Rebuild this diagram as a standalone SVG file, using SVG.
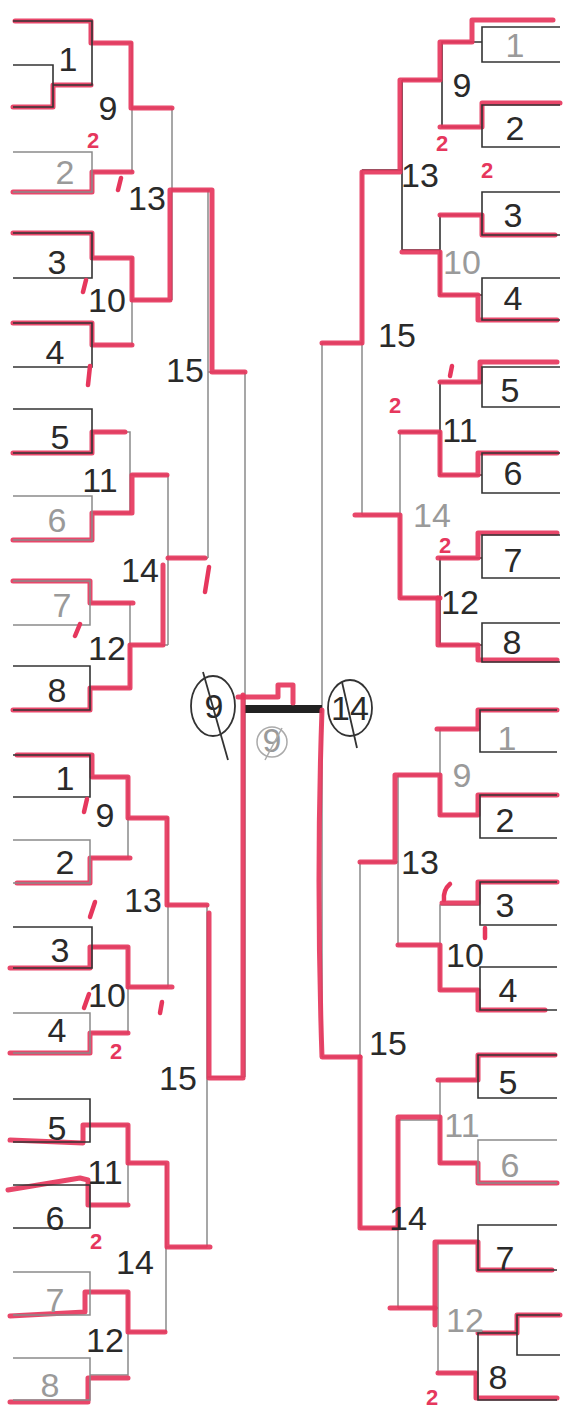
<svg xmlns="http://www.w3.org/2000/svg" width="565" height="1413" viewBox="0 0 565 1413">
<style>
.b{fill:none;stroke:#333;stroke-width:1.6}
.g{fill:none;stroke:#8a8a8a;stroke-width:1.5}
.r{fill:none;stroke:#e6375d;stroke-width:5;stroke-linecap:round;stroke-linejoin:round;opacity:.92}
.t{font-family:"Liberation Sans",sans-serif;font-size:34px;fill:#2a2a2a;text-anchor:middle}
.tg{fill:#9a9a9a}
.rt{font-family:"Liberation Sans",sans-serif;font-size:22px;font-weight:bold;fill:#e6375d;text-anchor:middle}
.k{fill:none;stroke:#e6375d;stroke-width:4.5;stroke-linecap:round}
</style>
<rect width="565" height="1413" fill="#fff"/>
<g id="connectors">
<path class="g" d="M92,43 H132 V172 H92 M132,108 H172 M92,258 H132 V345 H92 M132,300 H172 M172,108 V300 M172,190 H210 M92,432 H130 V513 H92 M130,475 H168 M90,603 H130 V688 H90 M130,645 H168 M168,475 V645 M168,558 H208 M208,190 V558 M208,372 H245"/>
<path class="g" d="M245,372 V1077 M322,343 V1057"/>
<path class="g" d="M90,777 H128 V858 H90 M128,818 H168 M92,947 H128 V1033 H90 M128,987 H168 M168,818 V987 M168,905 H207 M90,1125 H128 V1205 H90 M128,1163 H166 M90,1292 H128 V1375 H90 M128,1332 H166 M166,1163 V1332 M166,1247 H207 M207,905 V1247 M207,1077 H245"/>
<path class="b" d="M482,42 H442 V127 H482 M442,80 H402 M482,215 H440 V295 H482 M440,250 H402 M402,80 V250 M402,170 H362 M482,382 H440 V475 H482 M440,432 H400 M482,558 H440 V645 H482 M440,598 H400"/>
<path class="g" d="M400,432 V598 M400,515 H362 M362,170 V515 M362,343 H322"/>
<path class="g" d="M480,729 H440 V815 H480 M440,775 H398 M480,905 H440 V990 H480 M440,945 H398 M398,775 V945 M398,862 H360 M478,1080 H440 V1163 H478 M440,1120 H398 M478,1242 H438 V1373 H478 M438,1308 H398 M398,1120 V1308 M398,1228 H360 M360,862 V1228 M360,1057 H322"/>
<path d="M245,709 H322" stroke="#222" stroke-width="8" fill="none"/>
<path class="r" d="M15,21 H91 V43 H131 V108 H172"/>
<path class="r" d="M13,107 H53 V85 H91"/>
<path class="r" d="M13,192 H92 V172 H132"/>
<path class="r" d="M13,233 H92 V258 H132 V300 H170 V190 H212 V372 H245"/>
<path class="r" d="M13,323 H92 V345 H132"/>
<path class="r" d="M13,453 H92 V432 H125"/>
<path class="r" d="M13,540 H92 V513 H132 V475 H167"/>
<path class="r" d="M168,558 H205"/>
<path class="r" d="M13,581 H90 V603 H133"/>
<path class="r" d="M13,710 H90 V688 H130 V645 H163 V565"/>
<path class="r" d="M17,755 H92 V777 H128 V818 H167 V905 H207"/>
<path class="r" d="M17,883 H90 V858 H130"/>
<path class="r" d="M10,968 H90 V947 H128 V987 H172"/>
<path class="r" d="M10,1053 H90 V1033 H128"/>
<path class="r" d="M209,913 V1078 H243 V695"/>
<path class="r" d="M10,1140 L83,1143 V1125 H128 V1163 H167 V1247 H210"/>
<path class="r" d="M8,1190 L80,1178 L88,1180 V1205 H128"/>
<path class="r" d="M10,1316 L85,1312 V1292 H128 V1332 H165"/>
<path class="r" d="M10,1402 H88 V1378 H128"/>
<path class="r" d="M238,697 H278 V685 H293 V703"/>
<path class="r" d="M553,20 H472 V42 H440 V80 H400 V172 H362 V343 H322"/>
<path class="r" d="M560,103 H482 V127 H440"/>
<path class="r" d="M555,235 H482 V215 H440"/>
<path class="r" d="M557,320 H478 V295 H440 V252 H402"/>
<path class="r" d="M557,362 H480 V382 H440"/>
<path class="r" d="M557,453 H478 V475 H440 V432 H400"/>
<path class="r" d="M355,515 H400 V598 H440"/>
<path class="r" d="M557,533 H478 V558 H438"/>
<path class="r" d="M557,660 H478 V645 H438 V598"/>
<path class="r" d="M322,710 Q316,880 322,1057 H360"/>
<path class="r" d="M557,710 H478 V729 H437"/>
<path class="r" d="M557,795 H478 V815 H440 V775 H395 V862 H360"/>
<path class="r" d="M557,882 H478 V903 H442"/>
<path class="r" d="M545,1010 H478 V990 H440 V945 H398"/>
<path class="r" d="M555,1055 H478 V1080 H438"/>
<path class="r" d="M557,1183 H478 V1163 H440 V1117 H398 V1228 H360 V1057"/>
<path class="r" d="M552,1270 H478 V1242 H435 V1325"/>
<path class="r" d="M390,1308 H435"/>
<path class="r" d="M557,1398 H476 V1373 H438"/>
<path class="r" d="M560,1315 H517 V1333 H478"/>
</g>
<g id="lt-p1"><path class="b" d="M13,21 H92 V85 H53 M13,65 H53 V107 H13"/><text class="t" x="68" y="71" font-size="44">1</text></g>
<g id="lt-p2"><path class="g" d="M13,152 H92 V192 H13"/><text class="t tg" x="65" y="184">2</text></g>
<g id="lt-p3"><path class="b" d="M13,233 H92 V278 H13"/><text class="t" x="57" y="274">3</text></g>
<g id="lt-p4"><path class="b" d="M13,323 H92 V367 H13"/><text class="t" x="55" y="364">4</text></g>
<g id="lt-p5"><path class="b" d="M13,409 H92 V453 H13"/><text class="t" x="60" y="449">5</text></g>
<g id="lt-p6"><path class="g" d="M13,496 H92 V540 H13"/><text class="t tg" x="57" y="532">6</text></g>
<g id="lt-p7"><path class="g" d="M13,581 H90 V625 H13"/><text class="t tg" x="62" y="617">7</text></g>
<g id="lt-p8"><path class="b" d="M13,666 H90 V710 H13"/><text class="t" x="57" y="702">8</text></g>
<g id="lb-p1"><path class="b" d="M13,755 H90 V797 H13"/><text class="t" x="65" y="790">1</text></g>
<g id="lb-p2"><path class="g" d="M13,840 H90 V883 H13"/><text class="t" x="65" y="874">2</text></g>
<g id="lb-p3"><path class="b" d="M13,927 H92 V968 H13"/><text class="t" x="60" y="962">3</text></g>
<g id="lb-p4"><path class="g" d="M13,1013 H90 V1053 H13"/><text class="t" x="57" y="1042">4</text></g>
<g id="lb-p5"><path class="b" d="M13,1099 H90 V1142 H13"/><text class="t" x="57" y="1140">5</text></g>
<g id="lb-p6"><path class="b" d="M13,1185 H90 V1228 H13"/><text class="t" x="55" y="1230">6</text></g>
<g id="lb-p7"><path class="g" d="M13,1272 H90 V1315 H13"/><text class="t tg" x="55" y="1312">7</text></g>
<g id="lb-p8"><path class="g" d="M13,1358 H90 V1400 H13"/><text class="t tg" x="50" y="1397">8</text></g>
<g id="rt-p1"><path class="b" d="M560,27 H482 V62 H560"/><text class="t tg" x="515" y="57">1</text></g>
<g id="rt-p2"><path class="b" d="M560,105 H482 V147 H560"/><text class="t" x="515" y="140">2</text></g>
<g id="rt-p3"><path class="b" d="M560,192 H482 V235 H560"/><text class="t" x="513" y="227">3</text></g>
<g id="rt-p4"><path class="b" d="M560,278 H482 V320 H560"/><text class="t" x="513" y="310">4</text></g>
<g id="rt-p5"><path class="b" d="M560,367 H482 V407 H560"/><text class="t" x="510" y="402">5</text></g>
<g id="rt-p6"><path class="b" d="M560,453 H482 V493 H560"/><text class="t" x="513" y="485">6</text></g>
<g id="rt-p7"><path class="b" d="M560,535 H482 V578 H560"/><text class="t" x="513" y="572">7</text></g>
<g id="rt-p8"><path class="b" d="M560,623 H482 V662 H560"/><text class="t" x="512" y="654">8</text></g>
<g id="rb-p1"><path class="b" d="M557,710 H480 V752 H557"/><text class="t tg" x="507" y="750">1</text></g>
<g id="rb-p2"><path class="b" d="M557,795 H480 V838 H557"/><text class="t" x="505" y="832">2</text></g>
<g id="rb-p3"><path class="b" d="M557,882 H480 V925 H557"/><text class="t" x="505" y="917">3</text></g>
<g id="rb-p4"><path class="b" d="M557,967 H480 V1010 H557"/><text class="t" x="508" y="1002">4</text></g>
<g id="rb-p5"><path class="b" d="M557,1055 H478 V1098 H557"/><text class="t" x="508" y="1094">5</text></g>
<g id="rb-p6"><path class="g" d="M557,1140 H478 V1183 H557"/><text class="t tg" x="510" y="1177">6</text></g>
<g id="rb-p7"><path class="b" d="M557,1225 H478 V1270 H557"/><text class="t" x="505" y="1270">7</text></g>
<g id="rb-p8"><path class="b" d="M517,1333 H478 V1400 H557 M560,1315 H517 V1355 H560"/><text class="t" x="498" y="1389">8</text></g>
<g id="lt-matches">
<text class="t" x="108" y="120">9</text><text class="t" x="147" y="210">13</text><text class="t" x="107" y="312">10</text><text class="t" x="185" y="382">15</text><text class="t" x="100" y="492">11</text><text class="t" x="140" y="582">14</text><text class="t" x="107" y="660">12</text>
</g>
<g id="lb-matches">
<text class="t" x="105" y="827">9</text><text class="t" x="143" y="912">13</text><text class="t" x="107" y="1007">10</text><text class="t" x="178" y="1090">15</text><text class="t" x="105" y="1184">11</text><text class="t" x="135" y="1274">14</text><text class="t" x="105" y="1352">12</text>
</g>
<g id="rt-matches">
<text class="t" x="462" y="97">9</text><text class="t" x="420" y="187">13</text><text class="t tg" x="462" y="274">10</text><text class="t" x="397" y="347">15</text><text class="t" x="460" y="442">11</text><text class="t tg" x="432" y="527">14</text><text class="t" x="460" y="614">12</text>
</g>
<g id="rb-matches">
<text class="t tg" x="462" y="787">9</text><text class="t" x="420" y="874">13</text><text class="t" x="465" y="967">10</text><text class="t" x="388" y="1055">15</text><text class="t tg" x="462" y="1137">11</text><text class="t" x="408" y="1230">14</text><text class="t tg" x="465" y="1332">12</text>
</g>
<g id="final-left"><ellipse cx="213" cy="706" rx="22" ry="30" fill="none" stroke="#333" stroke-width="1.8"/><text class="t" x="214" y="718" font-size="30">9</text><path d="M203,672 L228,760" stroke="#333" stroke-width="1.8"/></g>
<g id="final-right"><ellipse cx="350" cy="708" rx="22" ry="28" fill="none" stroke="#333" stroke-width="1.8"/><text class="t" x="350" y="720" font-size="28">14</text><path d="M342,682 L357,748" stroke="#333" stroke-width="1.8"/></g>
<g id="final-center"><circle cx="272" cy="742" r="15" fill="none" stroke="#aaa" stroke-width="1.5"/><text class="t tg" x="272" y="752" font-size="26">9</text><path d="M265,760 L282,728" stroke="#aaa" stroke-width="1.5"/></g>
<g id="annotations">
<text class="rt" x="93" y="148">2</text>
<path class="k" d="M121,178 L118,190 M86,280 L83,292 M90,366 L88,385 M209,567 L205,592 M80,624 L75,636"/>
<path class="k" d="M87,799 L84,812 M95,902 L90,917 M89,994 L84,1008 M162,1002 L160,1013"/>
<text class="rt" x="116" y="1059">2</text>
<text class="rt" x="96" y="1249">2</text>
<text class="rt" x="442" y="151">2</text>
<text class="rt" x="487" y="178">2</text>
<text class="rt" x="395" y="413">2</text>
<path class="k" d="M452,366 L450,376"/>
<text class="rt" x="445" y="553">2</text>
<path class="k" d="M450,884 Q443,890 444,900 M485,928 L485,938"/>
<text class="rt" x="432" y="1405" font-size="20">2</text>
</g>
</svg>
